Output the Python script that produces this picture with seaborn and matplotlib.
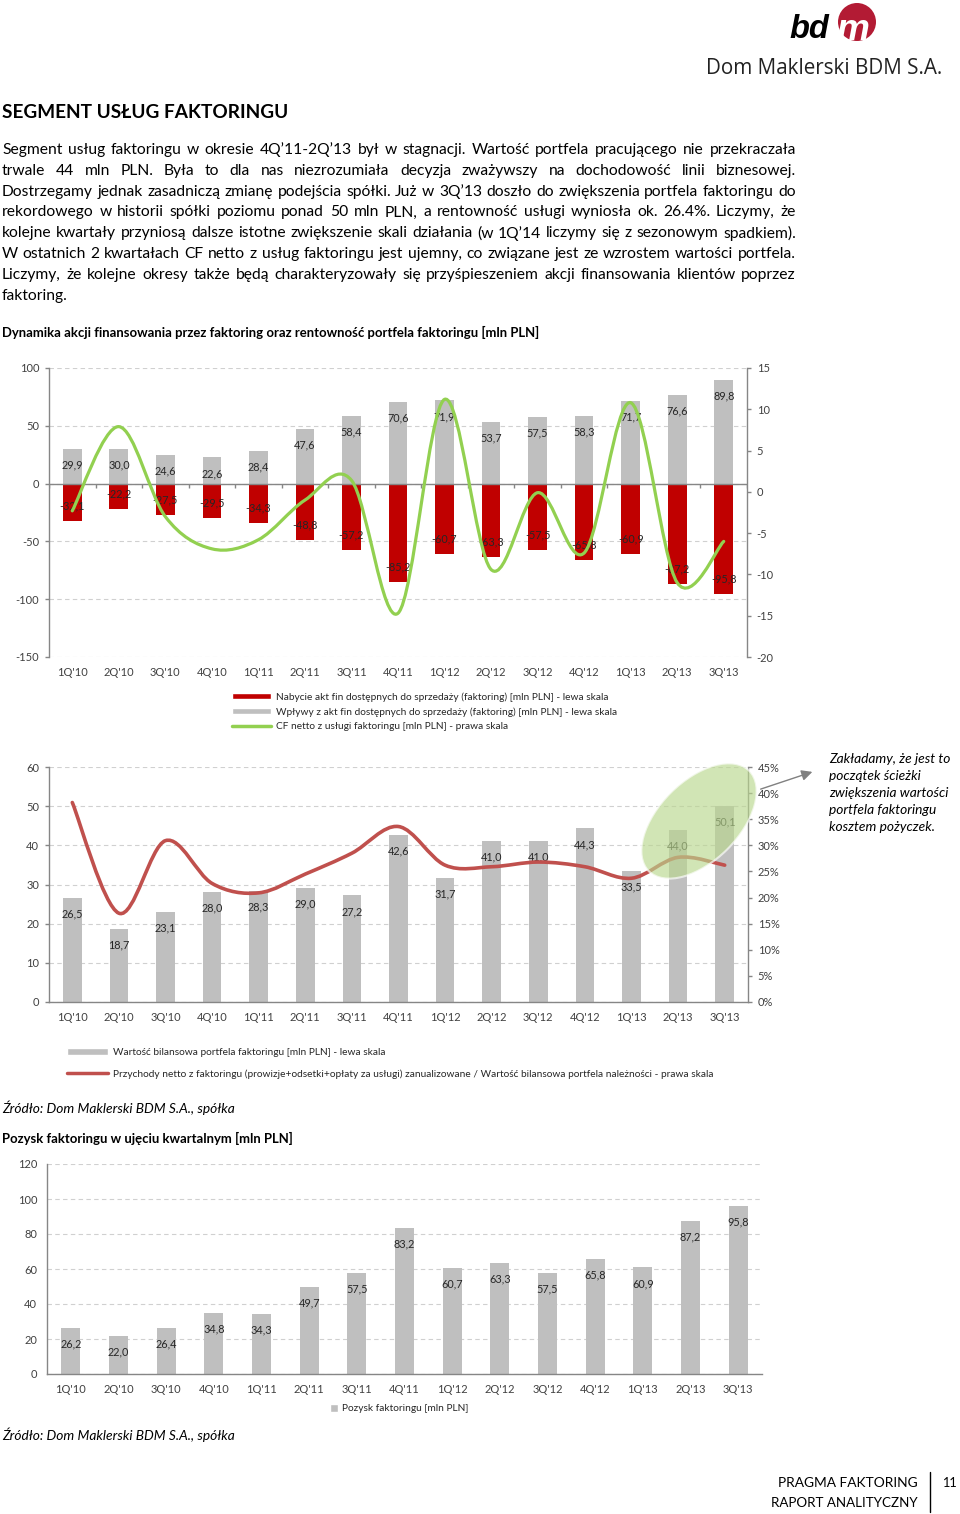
"""Segment uslug faktoringu - odtworzenie strony raportu (3 wykresy + tekst)"""

import matplotlib
matplotlib.use('Agg')
import matplotlib.pyplot as plt
from matplotlib.patches import Patch, PathPatch, Ellipse, Circle, FancyArrowPatch
from matplotlib.lines import Line2D
from matplotlib.path import Path
import seaborn as sns
import numpy as np
import pandas as pd

sns.set_style('white')
plt.rcParams['font.family'] = ['Lato', 'DejaVu Sans']
plt.rcParams['axes.unicode_minus'] = False

W, H = 960, 1514

quarters = ["1Q'10", "2Q'10", "3Q'10", "4Q'10", "1Q'11", "2Q'11", "3Q'11", "4Q'11",
            "1Q'12", "2Q'12", "3Q'12", "4Q'12", "1Q'13", "2Q'13", "3Q'13"]
# wykres 1
inflows = [29.9, 30.0, 24.6, 22.6, 28.4, 47.6, 58.4, 70.6, 71.9, 53.7, 57.5, 58.3, 71.7, 76.6, 89.8]
acquisitions = [-32.1, -22.2, -27.5, -29.5, -34.3, -48.8, -57.2, -85.2, -60.7, -63.3, -57.5, -65.8,
                -60.9, -87.2, -95.8]
cf_net = [-2.3, 7.9, -3.0, -6.9, -5.8, -1.0, 1.4, -14.7, 11.2, -9.4, -0.1, -7.4, 10.8, -11.0, -6.0]
# wykres 2
portfolio = [26.5, 18.7, 23.1, 28.0, 28.3, 29.0, 27.2, 42.6, 31.7, 41.0, 41.0, 44.3, 33.5, 44.0, 50.1]
yield_pct = [38.2, 17.0, 30.9, 22.7, 20.9, 24.5, 28.5, 33.6, 26.2, 25.9, 26.8, 25.9, 23.7, 27.7, 26.2]
# wykres 3
pozysk = [26.2, 22.0, 26.4, 34.8, 34.3, 49.7, 57.5, 83.2, 60.7, 63.3, 57.5, 65.8, 60.9, 87.2, 95.8]

paragraph = [
    "Segment usług faktoringu w okresie 4Q’11-2Q’13 był w stagnacji. Wartość portfela pracującego nie przekraczała",
    "trwale 44 mln PLN. Była to dla nas niezrozumiała decyzja zważywszy na dochodowość linii biznesowej.",
    "Dostrzegamy jednak zasadniczą zmianę podejścia spółki. Już w 3Q’13 doszło do zwiększenia portfela faktoringu do",
    "rekordowego w historii spółki poziomu ponad 50 mln PLN, a rentowność usługi wyniosła ok. 26.4%. Liczymy, że",
    "kolejne kwartały przyniosą dalsze istotne zwiększenie skali działania (w 1Q’14 liczymy się z sezonowym spadkiem).",
    "W ostatnich 2 kwartałach CF netto z usług faktoringu jest ujemny, co związane jest ze wzrostem wartości portfela.",
    "Liczymy, że kolejne okresy także będą charakteryzowały się przyśpieszeniem akcji finansowania klientów poprzez",
    "faktoring.",
]
note = ["Zakładamy, że jest to", "początek ścieżki", "zwiększenia wartości",
        "portfela faktoringu", "kosztem pożyczek."]

GRAY = '#bfbfbf'
RED = '#c00000'
GREEN = '#92d050'
LINE_RED = '#c0504d'
AXC = '#868686'
TXT = '#404040'
TICK_FS = 8
LABEL_FS = 7.8
LEG_FS = 7.3

fig = plt.figure(figsize=(W / 100, H / 100), dpi=100)
renderer = fig.canvas.get_renderer()


def fig_text(x, y, s, **kw):
    return fig.text(x / W, 1 - y / H, s, va='center', **kw)


def fit_text(x, y, s, width, **kw):
    # dopasowanie rozmiaru czcionki do szerokosci tekstu z oryginalu
    t = fig_text(x, y, s, fontsize=10, **kw)
    w = t.get_window_extent(renderer).width
    t.set_fontsize(10 * width / w)
    return t


def justify(line, y, size, x0=2, x1=796):
    words = line.split(' ')
    texts = [fig_text(0, y, w, fontsize=size, color='black') for w in words]
    widths = [t.get_window_extent(renderer).width for t in texts]
    gap = (x1 - x0 - sum(widths)) / (len(words) - 1)
    x = x0
    for t, w in zip(texts, widths):
        t.set_x(x / W)
        x += w + gap


def smooth_path(ys):
    # wygladzona linia jak w Excelu (krzywe Beziera przez punkty)
    pts = np.column_stack([np.arange(len(ys)), ys]).astype(float)
    n = len(pts)
    verts, codes = [pts[0]], [Path.MOVETO]
    for i in range(n - 1):
        p0, p1, p2, p3 = pts[max(i - 1, 0)], pts[i], pts[i + 1], pts[min(i + 2, n - 1)]
        verts += [p1 + (p2 - p0) / 6, p2 - (p3 - p1) / 6, p2]
        codes += [Path.CURVE4] * 3
    return Path(verts, codes)


def label_bars(ax, bars, values):
    for b, v in zip(bars, values):
        off = -16 if v > 0 else 15
        ax.annotate(f'{v:.1f}'.replace('.', ','), (b.get_x() + b.get_width() / 2, v),
                    xytext=(0, off), textcoords='offset pixels', ha='center', va='center',
                    fontsize=LABEL_FS, color='#262626')


def style_left(ax, bottom_spine=True):
    for s in ['top', 'right']:
        ax.spines[s].set_visible(False)
    ax.spines['bottom'].set_visible(bottom_spine)
    for s in ['left', 'bottom']:
        ax.spines[s].set_color(AXC)
        ax.spines[s].set_linewidth(1)
    ax.tick_params(axis='y', length=3, width=1, color=AXC, labelsize=TICK_FS, labelcolor=TXT, pad=4)
    ax.tick_params(axis='x', which='major', length=0, labelsize=TICK_FS, labelcolor=TXT, pad=7)
    ax.set_xticks(np.arange(-0.5, 15), minor=True)
    ax.tick_params(axis='x', which='minor', length=4 if bottom_spine else 0, width=1, color=AXC)
    ax.yaxis.grid(True, color='#d0d0d0', linestyle=(0, (4, 3)), lw=0.8)
    ax.set_axisbelow(True)
    ax.set_xlim(-0.5, 14.5)
    ax.set_xlabel('')
    ax.set_ylabel('')


def style_right(ax):
    for s in ['top', 'left', 'bottom']:
        ax.spines[s].set_visible(False)
    ax.spines['right'].set_color(AXC)
    ax.spines['right'].set_linewidth(1)
    ax.tick_params(axis='y', length=3, width=1, color=AXC, labelsize=TICK_FS, labelcolor=TXT, pad=4)
    ax.grid(False)


# ---------------- naglowek i tekst ----------------
fig.add_artist(Circle((8.57, (H - 22) / 100), 0.19, transform=fig.dpi_scale_trans,
                      facecolor='#b31b34', edgecolor='none'))
fit_text(789, 30, 'bd', 40, fontweight='bold', fontstyle='italic', color='black',
         family=['Liberation Sans', 'DejaVu Sans'])
fit_text(836, 31, 'm', 33, fontweight='bold', fontstyle='italic', color='white',
         family=['Liberation Sans', 'DejaVu Sans'])
fit_text(706, 68, 'Dom Maklerski BDM S.A.', 236, color='#222222', family=['Open Sans', 'DejaVu Sans'])

fit_text(2, 113, 'SEGMENT USŁUG FAKTORINGU', 287, fontweight='bold', color='black')

# rozmiar akapitu: najdluzsza linia wypelnia cala szerokosc
probe = [fig_text(0, 0, s, fontsize=10) for s in paragraph[:-1]]
maxw = max(t.get_window_extent(renderer).width for t in probe)
for t in probe:
    t.remove()
psize = 10 * 790 / maxw
for i, line in enumerate(paragraph):
    y = 150 + 20.8 * i
    if i < len(paragraph) - 1:
        justify(line, y, psize)
    else:
        fig_text(2, y, line, fontsize=psize, color='black')

fit_text(2, 332, 'Dynamika akcji finansowania przez faktoring oraz rentowność portfela faktoringu [mln PLN]',
         537, fontweight='bold', color='black')

# ---------------- wykres 1 ----------------
df1 = pd.DataFrame({'kwartal': quarters, 'wplywy': inflows, 'nabycie': acquisitions})
ax1 = fig.add_axes([49 / W, 1 - 657 / H, 698 / W, 289 / H])
sns.barplot(data=df1, x='kwartal', y='wplywy', color=GRAY, saturation=1, width=0.4, linewidth=0, ax=ax1)
sns.barplot(data=df1, x='kwartal', y='nabycie', color=RED, saturation=1, width=0.4, linewidth=0, ax=ax1)
ax1.set_ylim(-150, 100)
ax1.set_yticks(range(-150, 101, 50))
style_left(ax1, bottom_spine=False)
ax1.axhline(0, color=AXC, lw=1, zorder=1.5)
ax1.vlines(np.arange(-0.5, 15), -3.5, 0, color=AXC, lw=1)
label_bars(ax1, ax1.containers[0], inflows)
label_bars(ax1, ax1.containers[1], acquisitions)

ax1r = ax1.twinx()
ax1r.set_ylim(-20, 15)
ax1r.set_yticks(range(-20, 16, 5))
style_right(ax1r)
ax1r.add_patch(PathPatch(smooth_path(cf_net), fill=False, edgecolor=GREEN, lw=2.3, capstyle='round'))

leg1 = [Patch(facecolor=RED), Patch(facecolor=GRAY), Line2D([], [], color=GREEN, lw=2.5)]
fig.legend(leg1, ['Nabycie akt fin dostępnych do sprzedaży (faktoring) [mln PLN] - lewa skala',
                  'Wpływy z akt fin dostępnych do sprzedaży (faktoring) [mln PLN] - lewa skala',
                  'CF netto z usługi faktoringu [mln PLN] - prawa skala'],
           loc='upper left', bbox_to_anchor=(232 / W, 1 - 692 / H), frameon=False, fontsize=LEG_FS,
           handlelength=3.8, handleheight=0.6, handletextpad=0.5, labelspacing=0.55,
           borderpad=0, borderaxespad=0, labelcolor='#262626')

# ---------------- wykres 2 ----------------
df2 = pd.DataFrame({'kwartal': quarters, 'portfel': portfolio})
ax2 = fig.add_axes([49 / W, 1 - 1002 / H, 699 / W, 235 / H])
sns.barplot(data=df2, x='kwartal', y='portfel', color=GRAY, saturation=1, width=0.4, linewidth=0, ax=ax2)
ax2.set_ylim(0, 60)
ax2.set_yticks(range(0, 61, 10))
style_left(ax2)
label_bars(ax2, ax2.containers[0], portfolio)

ax2r = ax2.twinx()
ax2r.set_ylim(0, 45)
ax2r.set_yticks(range(0, 46, 5))
ax2r.set_yticklabels([f'{v}%' for v in range(0, 46, 5)])
style_right(ax2r)
ax2r.add_patch(PathPatch(smooth_path(yield_pct), fill=False, edgecolor=LINE_RED, lw=2.6, capstyle='round'))

fig.add_artist(Ellipse((6.99, (H - 821) / 100), 1.42, 0.8, angle=45, transform=fig.dpi_scale_trans,
                       facecolor='#b9d78e', edgecolor='white', lw=1.5, alpha=0.65, zorder=5))
fig.add_artist(FancyArrowPatch((7.58, (H - 790) / 100), (8.15, (H - 771) / 100),
                               transform=fig.dpi_scale_trans, arrowstyle='-|>', mutation_scale=16,
                               color='#808080', lw=1, zorder=6))
nsize = None
for i, s in enumerate(note):
    y = 759 + 17 * i
    if nsize is None:
        t = fit_text(829, y, s, 121, fontstyle='italic', color='black')
        nsize = t.get_fontsize()
    else:
        fig_text(829, y, s, fontsize=nsize, fontstyle='italic', color='black')

leg2 = [Patch(facecolor=GRAY), Line2D([], [], color=LINE_RED, lw=2.5)]
fig.legend(leg2, ['Wartość bilansowa portfela faktoringu [mln PLN] - lewa skala',
                  'Przychody netto z faktoringu (prowizje+odsetki+opłaty za usługi) zanualizowane / '
                  'Wartość bilansowa portfela należności - prawa skala'],
           loc='upper left', bbox_to_anchor=(67 / W, 1 - 1048 / H), frameon=False, fontsize=LEG_FS,
           handlelength=4.0, handleheight=0.6, handletextpad=0.5, labelspacing=1.2,
           borderpad=0, borderaxespad=0, labelcolor='#262626')

fit_text(2, 1108, 'Źródło: Dom Maklerski BDM S.A., spółka', 232, fontstyle='italic', color='black')
fit_text(2, 1138, 'Pozysk faktoringu w ujęciu kwartalnym [mln PLN]', 290, fontweight='bold', color='black')

# ---------------- wykres 3 ----------------
df3 = pd.DataFrame({'kwartal': quarters, 'pozysk': pozysk})
ax3 = fig.add_axes([47 / W, 1 - 1374 / H, 715 / W, 210 / H])
sns.barplot(data=df3, x='kwartal', y='pozysk', color=GRAY, saturation=1, width=0.4, linewidth=0, ax=ax3)
ax3.set_ylim(0, 120)
ax3.set_yticks(range(0, 121, 20))
style_left(ax3)
label_bars(ax3, ax3.containers[0], pozysk)

fig.legend([Patch(facecolor=GRAY)], ['Pozysk faktoringu [mln PLN]'],
           loc='upper left', bbox_to_anchor=(330 / W, 1 - 1404 / H), frameon=False, fontsize=LEG_FS,
           handlelength=0.8, handleheight=0.8, handletextpad=0.4,
           borderpad=0, borderaxespad=0, labelcolor='#262626')

fit_text(2, 1435, 'Źródło: Dom Maklerski BDM S.A., spółka', 232, fontstyle='italic', color='black')

# ---------------- stopka ----------------
fit_text(918, 1483, 'PRAGMA FAKTORING', 139, ha='right', color='black')
fit_text(918, 1503, 'RAPORT ANALITYCZNY', 146, ha='right', color='black')
fig.add_artist(Line2D([930 / W, 930 / W], [1 - 1472 / H, 1 - 1512 / H], color='black', lw=1))
fit_text(942, 1483, '11', 15, color='black')

fig.savefig('out.png', dpi=100)
